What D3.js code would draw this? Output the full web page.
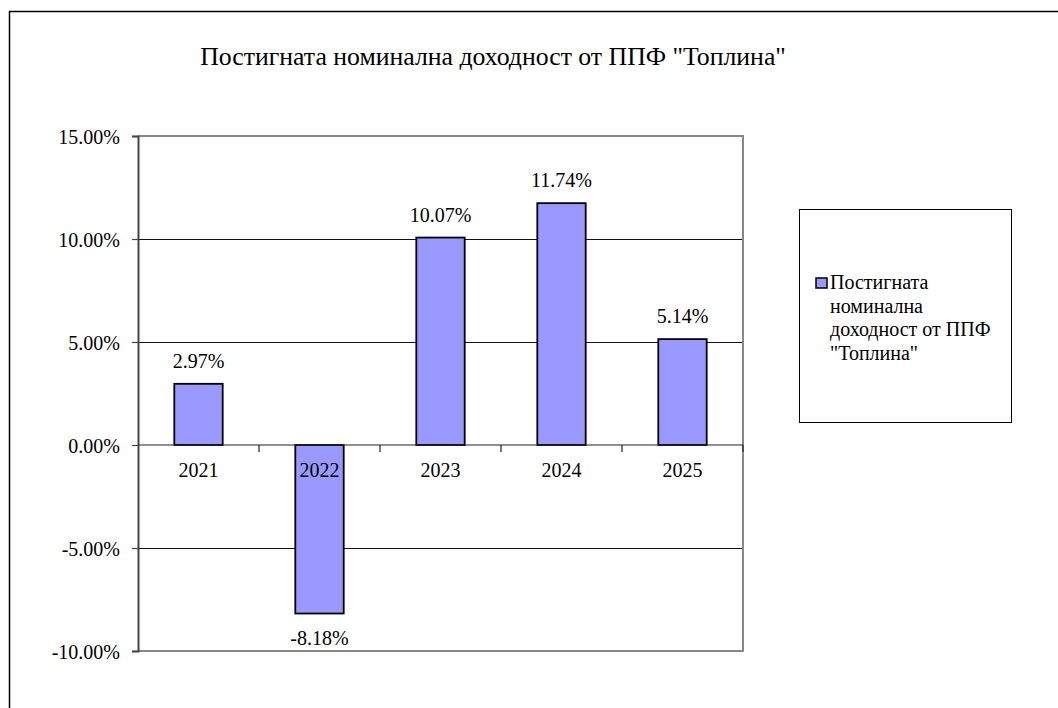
<!DOCTYPE html>
<html>
<head>
<meta charset="utf-8">
<script src="https://cdn.jsdelivr.net/npm/d3@7/dist/d3.min.js"></script>
<style>
  html, body { margin: 0; padding: 0; background: #fff; }
</style>
</head>
<body>
<svg id="chart" width="1058" height="708"></svg>
<script>
const titleText = 'Постигната номинална доходност  от ППФ "Топлина"';
const categories = ["2021", "2022", "2023", "2024", "2025"];
const values = [0.0297, -0.0818, 0.1007, 0.1174, 0.0514];
const valueLabels = ["2.97%", "-8.18%", "10.07%", "11.74%", "5.14%"];
const yTicks = [-0.10, -0.05, 0, 0.05, 0.10, 0.15];
const legendLines = ["Постигната", "номинална", "доходност от ППФ", "\"Топлина\""];

const svg = d3.select("#chart");
const plot = { left: 138, right: 743, top: 136, bottom: 651 };
const FF = '"Liberation Serif"';

// outer frame (extends past right/bottom edges)
svg.append("rect").attr("x", 9.5).attr("y", 11.5).attr("width", 1200).attr("height", 900)
  .attr("fill", "none").attr("stroke", "#000").attr("stroke-width", 1.5);

// title, fitted to the reference width
const title = svg.append("text").attr("x", 493).attr("y", 65).attr("text-anchor", "middle")
  .style("font-size", "24px").style("font-family", FF).attr("fill", "#000").text(titleText);
{
  const w = title.node().getComputedTextLength();
  title.style("font-size", (24 * 586 / w).toFixed(2) + "px");
}

const x = d3.scaleBand().domain(categories).range([plot.left, plot.right]).paddingInner(0.6).paddingOuter(0.3);
const xb = d3.scaleBand().domain(categories).range([plot.left, plot.right]);
const y = d3.scaleLinear().domain([-0.10, 0.15]).range([plot.bottom, plot.top]);

// gridlines
svg.append("g").selectAll("line").data(yTicks.filter(t => t > -0.10 && t < 0.15 && t !== 0)).join("line")
  .attr("x1", plot.left).attr("x2", plot.right)
  .attr("y1", d => Math.round(y(d)) + 0.5).attr("y2", d => Math.round(y(d)) + 0.5)
  .attr("stroke", "#111").attr("stroke-width", 1);

// plot border (top, right, bottom gray)
svg.append("path")
  .attr("d", `M${plot.left},${plot.top}H${plot.right}V${plot.bottom}H${plot.left}`)
  .attr("fill", "none").attr("stroke", "#888").attr("stroke-width", 2);

// bars
svg.append("g").selectAll("rect").data(values).join("rect")
  .attr("x", (d, i) => x(categories[i]))
  .attr("width", x.bandwidth())
  .attr("y", d => y(Math.max(0, d)))
  .attr("height", d => Math.abs(y(d) - y(0)))
  .attr("fill", "#9999FF").attr("stroke", "#000").attr("stroke-width", 1.8);

// zero axis line
svg.append("line").attr("x1", plot.left).attr("x2", plot.right)
  .attr("y1", y(0)).attr("y2", y(0)).attr("stroke", "#222").attr("stroke-width", 1.2);

// x tick marks at category boundaries
const boundaries = categories.slice(1).map(c => xb(c)).concat([plot.right]);
svg.append("g").selectAll("line").data(boundaries).join("line")
  .attr("x1", d => d).attr("x2", d => d)
  .attr("y1", y(0)).attr("y2", y(0) + 7)
  .attr("stroke", "#222").attr("stroke-width", 1.2);

// y axis
const yAxis = d3.axisLeft(y).tickValues(yTicks).tickSize(6).tickPadding(12)
  .tickFormat(d => (d < 0 ? "-" : "") + d3.format(".2f")(Math.abs(d) * 100) + "%");
const gy = svg.append("g").attr("transform", `translate(${plot.left},0)`).call(yAxis);
gy.attr("font-family", null).attr("font-size", null);
gy.select(".domain").attr("stroke", "#444").attr("stroke-width", 2);
gy.selectAll(".tick line").attr("stroke", "#444").attr("stroke-width", 1.2);
gy.selectAll(".tick text").style("font-size", "20px").style("font-family", FF).attr("fill", "#000").attr("dy", "0.35em");

// category labels
svg.append("g").selectAll("text").data(categories).join("text")
  .attr("x", c => xb(c) + xb.bandwidth() / 2)
  .attr("y", y(0) + 32)
  .attr("text-anchor", "middle").style("font-size", "20px").style("font-family", FF).attr("fill", "#000").text(c => c);

// value labels
svg.append("g").selectAll("text").data(values).join("text")
  .attr("x", (d, i) => x(categories[i]) + x.bandwidth() / 2)
  .attr("y", d => d >= 0 ? y(d) - 16 : y(d) + 31)
  .attr("text-anchor", "middle").style("font-size", "20px").style("font-family", FF).attr("fill", "#000").text((d, i) => valueLabels[i]);

// legend
const lg = svg.append("g");
lg.append("rect").attr("x", 799.5).attr("y", 209.5).attr("width", 212).attr("height", 213)
  .attr("fill", "#fff").attr("stroke", "#000").attr("stroke-width", 1);
lg.append("rect").attr("x", 816).attr("y", 278).attr("width", 11).attr("height", 10)
  .attr("fill", "#9999FF").attr("stroke", "#000").attr("stroke-width", 1.5);
const lt = lg.append("g").selectAll("text").data(legendLines).join("text")
  .attr("x", 830).attr("y", (d, i) => 289 + i * 23.5)
  .style("font-size", "20px").style("font-family", FF).attr("fill", "#000").text(d => d);
{
  const w = lt.nodes()[2].getComputedTextLength();
  lt.style("font-size", Math.min(20, 20 * 172 / w).toFixed(2) + "px");
}
</script>
</body>
</html>
